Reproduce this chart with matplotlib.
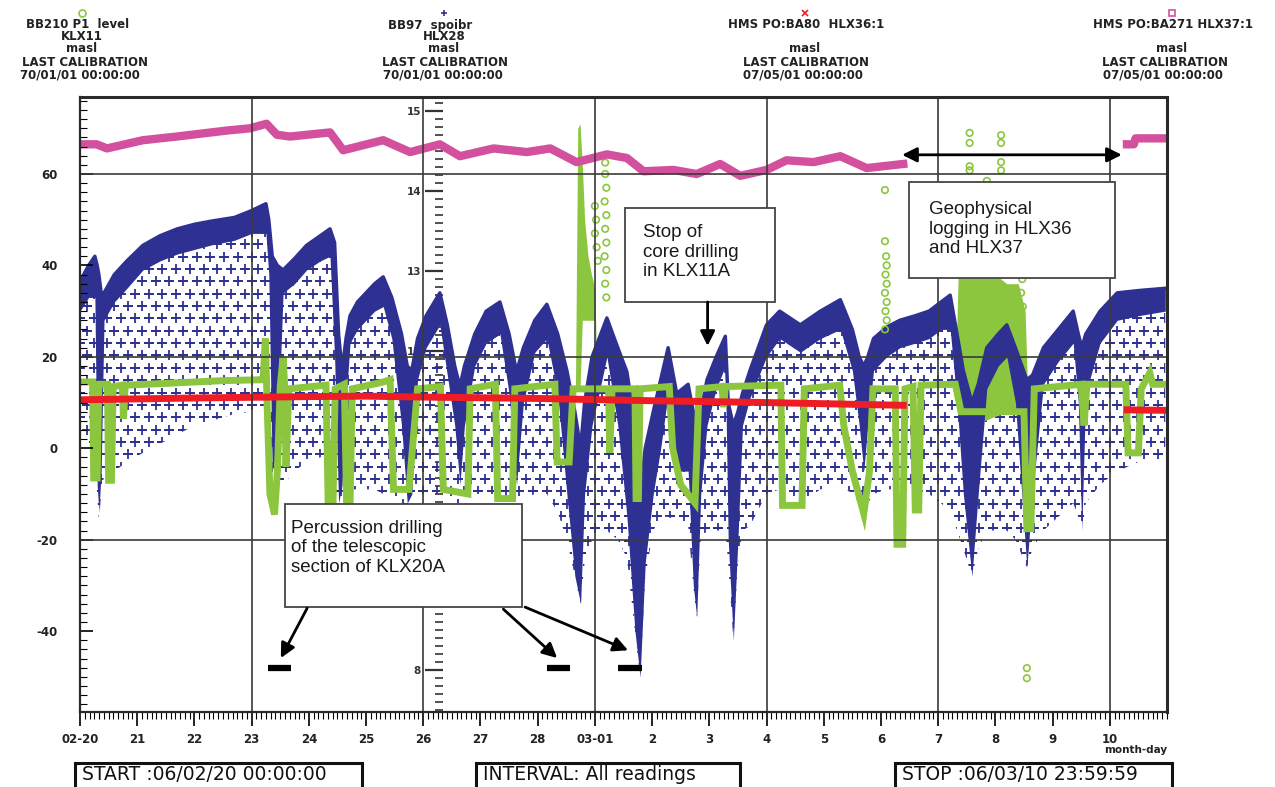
import numpy as np
import matplotlib.pyplot as plt
from matplotlib.patches import Rectangle, FancyArrowPatch
from matplotlib.lines import Line2D
from matplotlib.ticker import MultipleLocator

W, H = 1275, 787

# x = days after 2006-02-20 00:00
day_ticks = list(range(0, 19))
day_labels = ['02-20', '21', '22', '23', '24', '25', '26', '27', '28',
              '03-01', '2', '3', '4', '5', '6', '7', '8', '9', '10']

# HLX28 (BB97 spoibr): top of the dense band, bottom of the dense band, bottom of the sparse readings
hlx28_day = [0.00, 0.15, 0.26, 0.30, 0.33, 0.37, 0.42, 0.60, 0.82, 1.10, 1.40, 1.70, 2.00, 2.30, 2.70,
             3.00, 3.25, 3.30, 3.36, 3.45, 3.55, 3.75, 3.96, 4.20, 4.37, 4.45, 4.52, 4.58, 4.65, 4.72,
             4.85, 5.00, 5.15, 5.30, 5.45, 5.62, 5.72, 5.80, 5.90, 6.05, 6.29, 6.42, 6.55, 6.64, 6.72,
             6.90, 7.10, 7.34, 7.50, 7.63, 7.75, 7.95, 8.16, 8.35, 8.51, 8.65, 8.75, 8.82, 8.95, 9.21,
             9.40, 9.56, 9.70, 9.79, 9.88, 10.02, 10.15, 10.28, 10.43, 10.63, 10.72, 10.78, 10.85, 10.96,
             11.12, 11.28, 11.33, 11.42, 11.50, 11.58, 11.71, 12.00, 12.23, 12.59, 12.94, 13.29, 13.50,
             13.62, 13.70, 13.77, 13.87, 14.10, 14.33, 14.60, 14.84, 15.05, 15.21, 15.33, 15.44, 15.59,
             15.70, 15.85, 16.05, 16.20, 16.35, 16.55, 16.65, 16.84, 17.10, 17.36, 17.45, 17.51, 17.58,
             17.83, 18.13, 18.50, 18.97]
hlx28_top = [36.5, 40, 42, 40, 38, 34, 34, 38, 41, 44.4, 46.5, 48, 49, 49.7, 50.5,
             52, 53.5, 50, 42, 40, 39, 41.5, 44.4, 46.5, 48, 45, 25, 17, 24, 29,
             32, 34, 36, 37.5, 33, 25, 18, 17, 24, 29, 34, 27, 18, 13.5, 18,
             25, 30, 32, 25, 16.7, 22, 28, 31.5, 25, 17, 8, 0, 10, 20, 28.5,
             22, 16.7, 5, -10, 0, 8, 15, 22, 12, 14, 8, 5, 8, 15,
             20, 24.5, 10, 5, 8, 12, 17, 27, 30, 27, 30, 32.5, 26,
             20, 18, 20, 24, 26.5, 28, 29, 30, 32, 33.5, 25, 17, 10,
             14, 22, 25, 27, 22, 15, 16, 22, 26, 30, 25, 22, 25,
             30, 34, 34.5, 35]
hlx28_band_lo = [30, 33, 33, -8, -14, -5, 28, 32, 35, 39, 41, 42.5, 43.5, 44.5, 45.5,
                 47, 47, 38, -5, 0, 34, 36, 39, 41, 42, 20, -12, -8, 10, 23,
                 26, 28, 30, 31, 24, 5, -12, -10, 15, 22, 27, 16, 5, -8, 5,
                 18, 23, 25, 12, -8, 10, 21, 24, 12, -10, -28, -34, -10, 5, 20,
                 5, -15, -40, -50, -25, -10, 0, 12, -5, -5, -30, -37, -10, 5,
                 13, 18, -20, -42, -20, 5, 11, 20, 24, 21, 24, 26, 17,
                 5, -5, 5, 17, 20, 22, 23, 24, 26, 26, 10, -10, -28,
                 -10, 13, 18, 20, 10, -26, -10, 14, 19, 23, 10, -18, 12,
                 23, 28, 29, 30]
hlx28_cloud_lo = [4, 0, -3, -10, -16, -10, -6, -5, -3, -1, 1, 3, 5, 6, 7.5,
                  8, 8, 0, -12, -10, -8, -5, -3, -2, -1, -8, -14, -12, -10, -9,
                  -9, -9, -9, -10, -11, -12, -14, -12, -10, -10, -10, -11, -12, -12, -11,
                  -10, -10, -10, -11, -12, -11, -10, -10, -14, -20, -28, -34, -25, -20, -18,
                  -20, -24, -40, -50, -28, -18, -15, -15, -16, -17, -30, -37, -20, -18,
                  -18, -18, -25, -42, -25, -18, -17, -10, -9, -12, -9, -8, -10,
                  -12, -16, -12, -10, -9, -9, -9, -10, -12, -14, -18, -22, -28,
                  -22, -18, -18, -18, -20, -26, -22, -18, -15, -12, -15, -19, -12,
                  -8, -5, -3, -3]

# KLX11 (BB210 P1 level)
klx11_day = [0.00, 0.22, 0.24, 0.30, 0.33, 0.48, 0.50, 0.55, 0.58, 0.74, 0.76, 0.79, 1.50, 2.50,
             3.20, 3.24, 3.27, 3.32, 3.40, 3.45, 3.50, 3.55, 3.58, 3.60, 3.65, 4.30, 4.34, 4.42,
             4.46, 4.62, 4.66, 4.72, 4.76, 5.30, 5.42, 5.48, 5.75, 5.90, 6.30, 6.35, 6.78, 6.82,
             7.26, 7.30, 7.56, 7.60, 8.30, 8.34, 8.55, 8.62, 8.96, 9.24, 9.26, 9.30, 9.70, 9.72,
             9.76, 9.79, 10.30, 10.36, 10.50, 10.75, 10.82, 11.22, 11.25, 11.28, 12.25, 12.28,
             12.62, 12.66, 13.28, 13.35, 13.50, 13.70, 13.80, 13.86, 14.25, 14.28, 14.38, 14.42,
             14.56, 14.60, 14.66, 14.70, 15.30, 15.40, 16.50, 16.55, 16.62, 16.68, 17.50, 17.55,
             17.60, 18.28, 18.32, 18.50, 18.55, 18.70, 18.75, 18.97]
klx11_level = [14.5, 14.5, -6.5, -6.5, 14.0, 14.0, -7.0, -7.0, 13.5, 13.8, 6.5, 13.8, 14.2, 14.8,
               15.0, 24.0, 10.0, -10.0, -14.5, -5.0, 13.5, 20.0, 13.0, -4.0, 13.0, 13.8, -13.5, -13.5,
               13.0, 14.0, -12.0, -12.0, 13.0, 14.5, 15.0, -9.0, -9.0, 13.0, 13.5, -9.0, -10.0, 13.0,
               14.0, -11.0, -11.0, 13.0, 14.0, -3.0, -3.0, 13.0, 13.0, 13.0, -1.0, 13.0, 13.0, -11.0,
               -11.0, 13.0, 13.5, 0.0, -8.0, -12.0, 13.0, 13.5, 9.0, 13.5, 13.8, -12.5,
               -12.5, 13.0, 13.8, 5.0, -5.0, -14.3, -5.0, 13.0, 13.0, -21.0, -21.0, 13.0,
               13.5, -13.5, -13.5, 13.8, 14.0, 8.0, 8.0, -17.6, -17.6, 13.0, 14.0, 5.0,
               14.0, 14.0, -1.0, -1.0, 13.0, 16.5, 14.0, 14.0]

# KLX11 noisy periods (lower / upper edge)
klx11_burst1_day = [8.66, 8.70, 8.74, 8.78, 8.82, 8.88, 8.94, 9.00, 9.04]
klx11_burst1_lo = [13, 13, 13, 28, 28, 28, 28, 28, 13]
klx11_burst1_hi = [13, 70, 71, 62, 50, 42, 38, 35, 13]
klx11_burst2_day = [15.30, 15.35, 15.50, 15.65, 15.80, 16.00, 16.20, 16.40, 16.52, 16.56]
klx11_burst2_lo = [13, 8, 6, 6, 6, 7, 8, 8, 10, 13]
klx11_burst2_hi = [14, 38, 40, 38, 40, 38, 36, 36, 30, 14]

# KLX11 single readings
klx11_out_day = [9.00, 9.02, 9.00, 9.03, 9.05, 9.18, 9.18, 9.20, 9.17, 9.20, 9.18, 9.20, 9.17, 9.20,
                 9.18, 9.20, 14.07, 14.07, 14.09, 14.10, 14.08, 14.10, 14.07, 14.10, 14.08, 14.10,
                 14.07, 15.55, 15.55, 15.55, 15.55, 15.85, 16.10, 16.10, 16.10, 16.10, 16.45, 16.47,
                 16.45, 16.48, 16.55, 16.55]
klx11_out_level = [53, 50, 47, 44, 41, 62.5, 60, 57, 54, 51, 48, 45, 42, 39,
                   36, 33, 56.5, 45.3, 42, 40, 38, 36, 34, 32, 30, 28,
                   26, 69, 66.8, 61.7, 60.8, 58.5, 68.5, 66.8, 62.6, 60.8, 40, 37,
                   34, 31, -48.1, -50.3]

# HLX36 (HMS PO:BA80)
hlx36_day = [0, 2, 4, 5, 6, 8, 10, 12, 14.39, np.nan, 18.30, 18.97]
hlx36_level = [10.6, 11.0, 11.3, 11.4, 11.2, 10.9, 10.4, 10.0, 9.4, np.nan, 8.4, 8.3]

# HLX37 (HMS PO:BA271)
hlx37_day = [0.0, 0.29, 0.47, 1.1, 1.69, 2.56, 2.97, 3.26, 3.44, 3.67, 4.37, 4.6, 5.01, 5.3, 5.77,
             6.29, 6.64, 7.23, 7.81, 8.22, 8.68, 9.21, 9.56, 9.85, 10.37, 10.78, 11.19, 11.54, 12.0,
             12.35, 12.82, 13.29, 13.75, 14.39, np.nan, 18.30, 18.42, 18.45, 18.97]
hlx37_level = [66.5, 66.5, 65.6, 67.4, 68.2, 69.5, 70.0, 71.0, 68.6, 68.2, 69.1, 65.2, 66.5, 67.4, 64.8,
               66.5, 63.9, 65.6, 64.8, 65.6, 62.6, 64.3, 63.5, 60.6, 60.9, 60.0, 62.2, 59.6, 60.9,
               63.0, 62.6, 63.9, 61.3, 62.2, np.nan, 66.5, 66.5, 67.8, 67.8]

# percussion drilling periods in KLX20A
drill_start = [3.29, 8.16, 9.41]
drill_end = [3.69, 8.57, 9.83]
drill_level = -48

navy = '#2e3192'
green = '#8cc63f'
red = '#ee1c25'
magenta = '#d2509e'
gridc = '#3a3a3a'


def fxy(x, y):
    return x / W, 1 - y / H


fig = plt.figure(figsize=(W / 100, H / 100), dpi=100)
fig.patch.set_facecolor('white')
ax = fig.add_axes([80 / W, 1 - 712 / H, (1167 - 80) / W, (712 - 97) / H])
ax2 = ax.twinx()
ax.set_zorder(2)
ax2.set_zorder(1)
ax.patch.set_visible(False)

ax.set_xlim(0, 19)
ax.set_ylim(-57.7, 76.85)
ax2.set_ylim(7.48, 15.17)

# sparse HLX28 readings: "+" texture inside the envelope
cloud = ax.fill_between(hlx28_day, hlx28_cloud_lo, hlx28_top, facecolor='none',
                        edgecolor='none', zorder=1.0)
gx, gy = np.meshgrid(np.arange(0, 19.2, 0.24), np.arange(-58, 77, 2.7))
gx = gx + (np.arange(gx.shape[0])[:, None] % 2) * 0.12
plus = ax.scatter(gx.ravel(), gy.ravel(), marker='+', s=48, lw=1.3, color=navy, zorder=1.05)
plus.set_clip_path(cloud.get_paths()[0], ax.transData)

# KLX11 noisy periods
ax.fill_between(klx11_burst1_day, klx11_burst1_lo, klx11_burst1_hi, color=green, lw=0, zorder=1.1)
ax.fill_between(klx11_burst2_day, klx11_burst2_lo, klx11_burst2_hi, color=green, lw=0, zorder=1.1)

# HLX28 dense band
ax.fill_between(hlx28_day, hlx28_band_lo, hlx28_top, color=navy, lw=0, zorder=1.2)
ax.plot(hlx28_day, hlx28_top, color=navy, lw=2.5, zorder=1.2)

ax.plot(klx11_day, klx11_level, color=green, lw=5, solid_joinstyle='miter', zorder=1.3)
ax.scatter(klx11_out_day, klx11_out_level, marker='o', s=22, facecolor='none',
           edgecolor=green, lw=1.2, zorder=1.35)
ax.plot(hlx36_day, hlx36_level, color=red, lw=5, zorder=1.4)
ax.plot(hlx37_day, hlx37_level, color=magenta, lw=6, zorder=1.45)

for s, e in zip(drill_start, drill_end):
    ax.plot([s, e], [drill_level, drill_level], color='black', lw=4.5, solid_capstyle='butt', zorder=3)

# grid every third day and every 40 m
for d in range(3, 19, 3):
    ax.axvline(d, color=gridc, lw=1.2, zorder=2.5)
for v in (60, 20, -20):
    ax.axhline(v, color=gridc, lw=1.2, zorder=2.5)

for s in ax.spines.values():
    s.set_color('#2a2a2a')
    s.set_linewidth(1.6)
ax.spines['top'].set_linewidth(2.2)
ax.spines['right'].set_linewidth(2.2)

tick_font = dict(fontsize=8.5, fontweight='bold', color='#222222')
ax.set_xticks(day_ticks)
ax.set_xticklabels(day_labels, **tick_font)
ax.xaxis.set_minor_locator(MultipleLocator(1 / 12))
ax.tick_params(axis='x', which='major', direction='out', length=10, width=1.2, pad=5)
ax.tick_params(axis='x', which='minor', direction='out', length=5, width=0.8)

ax.set_yticks([-40, -20, 0, 20, 40, 60])
ax.set_yticklabels(['-40', '-20', '0', '20', '40', '60'], **tick_font)
ax.yaxis.set_minor_locator(MultipleLocator(2))
ax.tick_params(axis='y', which='major', direction='in', length=9, width=1.2, pad=16)
ax.tick_params(axis='y', which='minor', direction='in', length=5, width=0.8)

# HLX28 scale inside the plot
ax2.yaxis.set_ticks_position('left')
ax2.yaxis.set_label_position('left')
ax2.spines['left'].set_position(('data', 6.35))
for s in ax2.spines.values():
    s.set_visible(False)
ax2.set_yticks(range(8, 16))
ax2.set_yticklabels([str(v) for v in range(8, 16)], fontsize=7.5, fontweight='bold', color='#333333')
ax2.yaxis.set_minor_locator(MultipleLocator(0.1))
ax2.tick_params(axis='y', which='major', direction='out', length=13, width=1.6, pad=3, colors='#333333')
ax2.tick_params(axis='y', which='minor', direction='out', length=6, width=1.2, colors='#333333')

# annotations
note_font = dict(family='Liberation Sans', fontsize=13.5, color='#1a1a1a', linespacing=1.2)
boxes = [
    ((9.53, 32.0), 12.15 - 9.53, 52.56 - 32.0, (9.84, 42.9), 'Stop of\ncore drilling\nin KLX11A'),
    ((14.49, 37.33), 18.09 - 14.49, 58.25 - 37.33, (14.84, 47.9), 'Geophysical\nlogging in HLX36\nand HLX37'),
    ((3.58, -34.75), 7.73 - 3.58, -12.2 + 34.75, (3.69, -21.8),
     'Percussion drilling\nof the telescopic\nsection of KLX20A'),
]
for xy, w, h, txy, label in boxes:
    ax.add_patch(Rectangle(xy, w, h, facecolor='white', edgecolor='#444444', lw=1.3, zorder=5))
    ax.text(txy[0], txy[1], label, ha='left', va='center', zorder=6, **note_font)

arrows = [
    ((10.97, 32.0), (10.97, 22.4), '-|>'),
    ((3.97, -35.0), (3.51, -45.9), '-|>'),
    ((7.40, -35.2), (8.34, -45.9), '-|>'),
    ((7.78, -34.75), (9.58, -44.2), '-|>'),
    ((14.37, 64.2), (18.21, 64.2), '<|-|>'),
]
for p0, p1, style in arrows:
    ax.add_patch(FancyArrowPatch(p0, p1, arrowstyle=style, mutation_scale=22, color='black',
                                 lw=2, shrinkA=0, shrinkB=0, zorder=6))

# header: one block per series
head_font = dict(fontsize=8.5, fontweight='bold', color='#222222', ha='center', va='center')
headers = [
    (82, 'o', green, 'none', [(78, 25, 'BB210 P1  level'), (82, 37, 'KLX11'), (82, 49, 'masl'),
                              (85, 63, 'LAST CALIBRATION'), (80, 75, '70/01/01 00:00:00')]),
    (444, '+', navy, navy, [(430, 25, 'BB97  spoibr'), (444, 37, 'HLX28'), (444, 49, 'masl'),
                            (445, 63, 'LAST CALIBRATION'), (443, 75, '70/01/01 00:00:00')]),
    (805, 'x', red, red, [(806, 25, 'HMS PO:BA80  HLX36:1'), (805, 49, 'masl'),
                          (806, 63, 'LAST CALIBRATION'), (803, 75, '07/05/01 00:00:00')]),
    (1172, 's', magenta, 'none', [(1173, 25, 'HMS PO:BA271 HLX37:1'), (1172, 49, 'masl'),
                                  (1165, 63, 'LAST CALIBRATION'), (1163, 75, '07/05/01 00:00:00')]),
]
for mx, marker, mc, mfc, lines in headers:
    x0, y0 = fxy(mx, 13)
    fig.add_artist(Line2D([x0], [y0], marker=marker, markersize=5, color=mc, markerfacecolor=mfc,
                          markeredgewidth=1.2, linestyle='none', transform=fig.transFigure))
    for tx, ty, t in lines:
        fig.text(*fxy(tx, ty), t, **head_font)

fig.text(*fxy(1136, 750), 'month-day', **dict(head_font, fontsize=7.5))

# footer boxes
foot_font = dict(family='DejaVu Sans', fontsize=13.5, color='#111111', ha='left', va='center')
for x0, x1, t in [(75, 362, 'START :06/02/20 00:00:00'), (476, 740, 'INTERVAL: All readings'),
                  (895, 1172, 'STOP :06/03/10 23:59:59')]:
    bx, by = fxy(x0, 795)
    fig.add_artist(Rectangle((bx, by), (x1 - x0) / W, (795 - 763) / H, transform=fig.transFigure,
                             fill=False, edgecolor='#111111', lw=2.2))
    fig.text(*fxy(x0 + 7, 775), t, **foot_font)

fig.savefig('out.png', dpi=100, facecolor='white')
